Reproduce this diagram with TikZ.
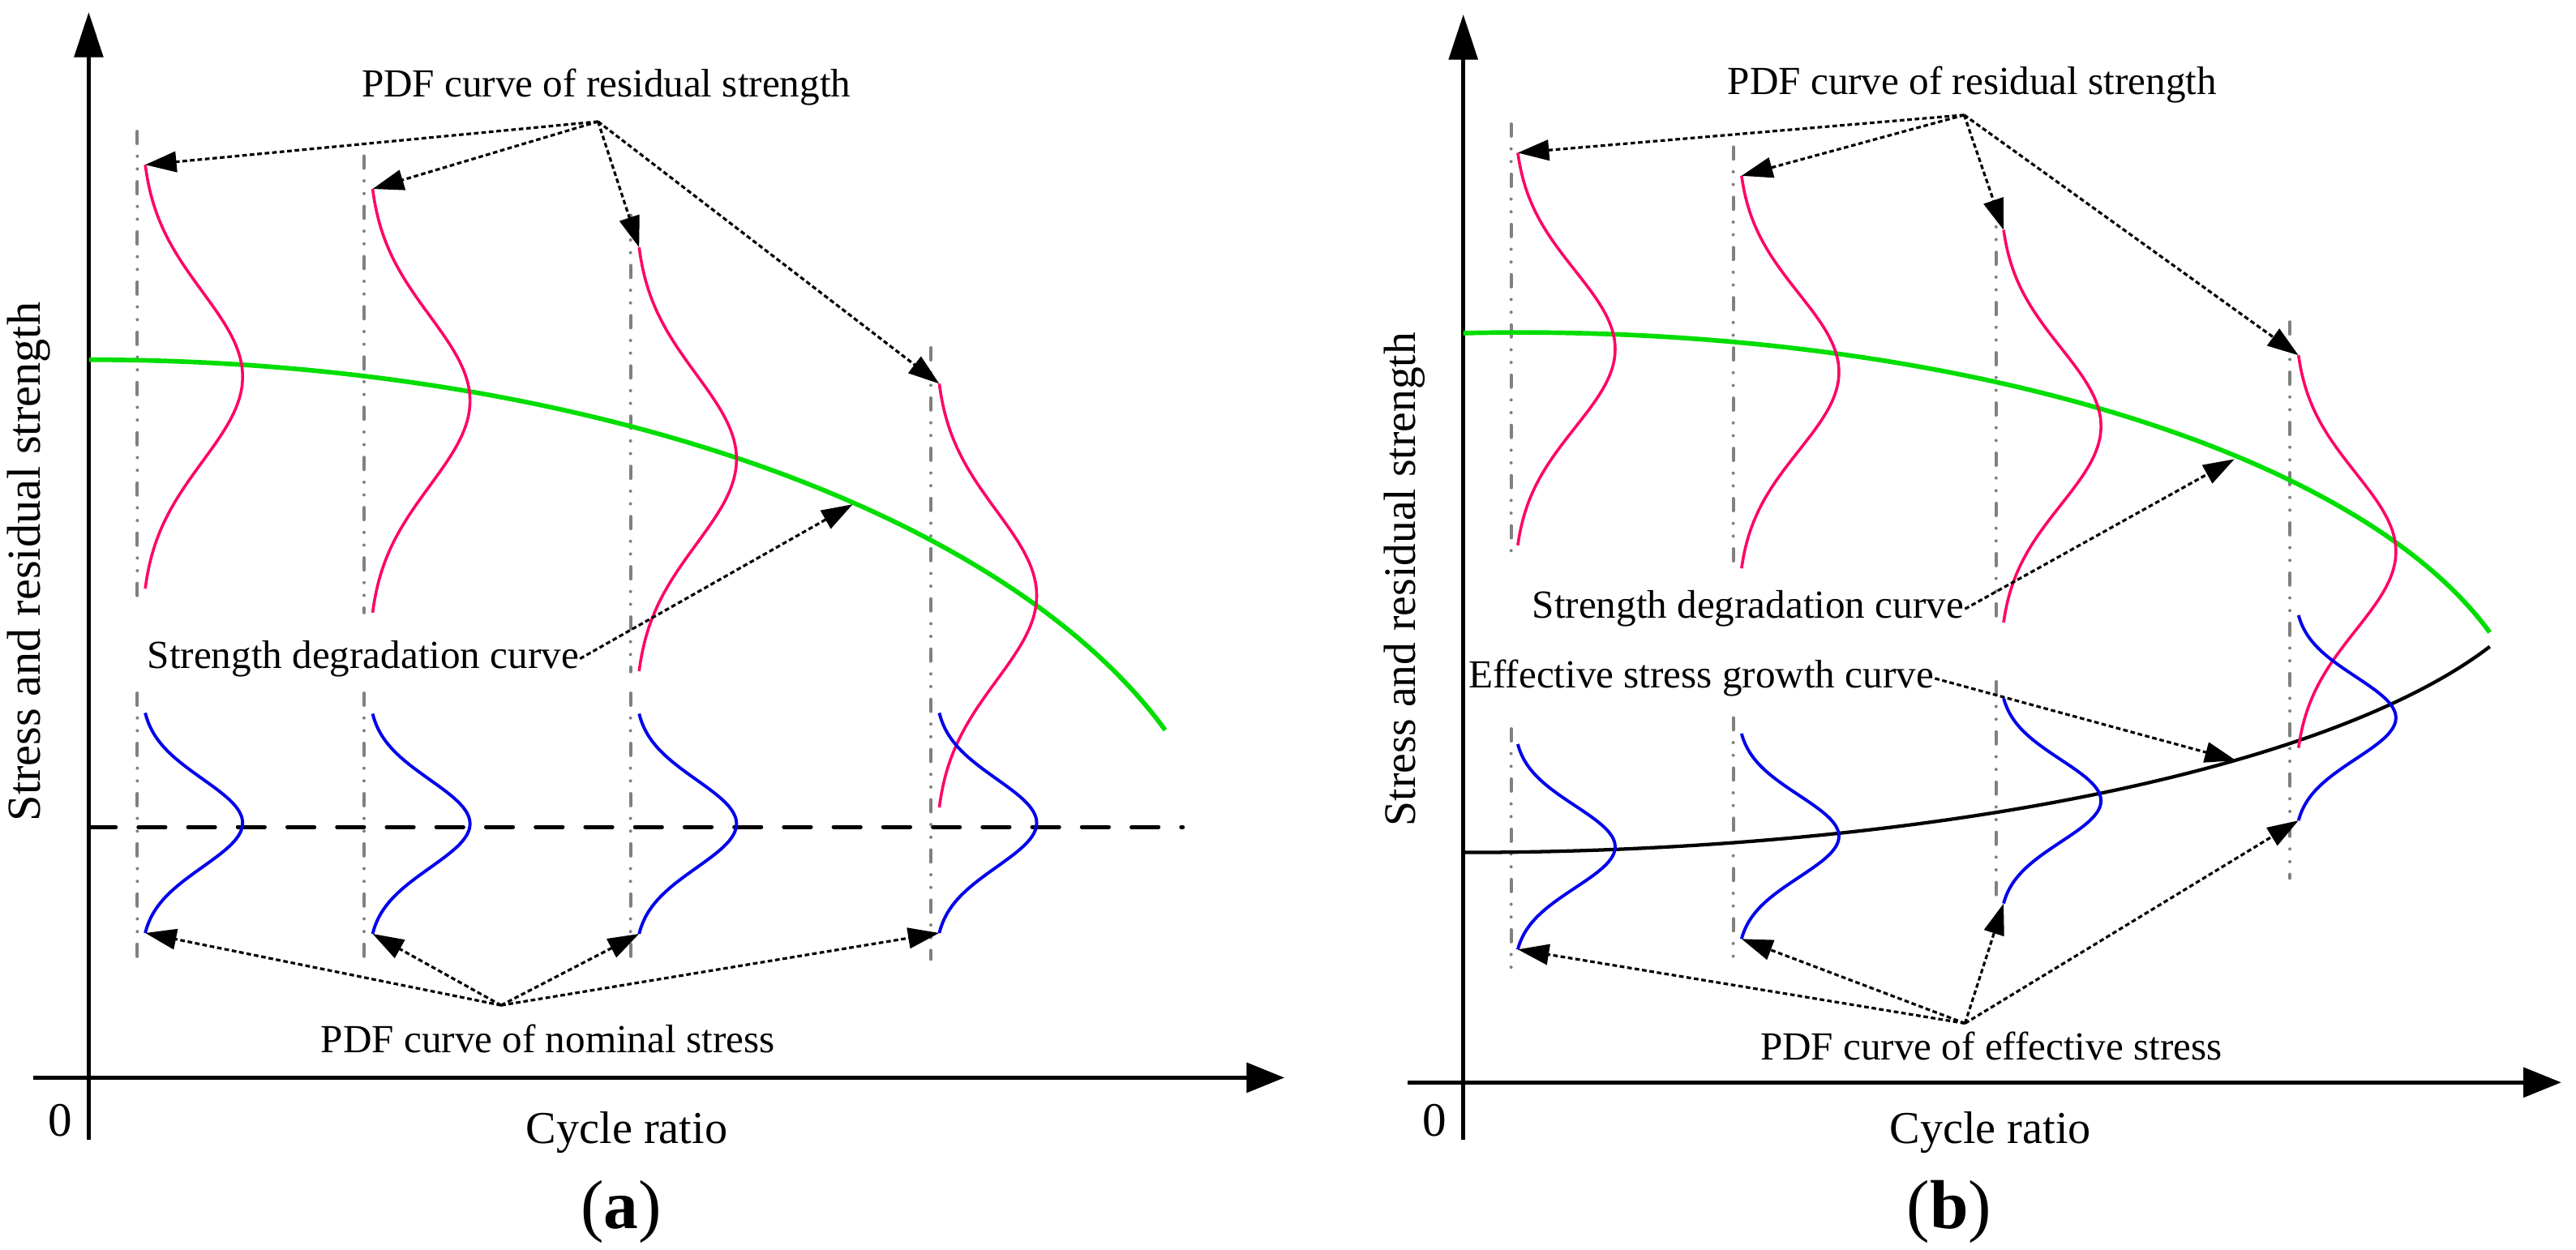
\documentclass[tikz,border=0pt]{standalone}
\usepackage{fontspec}
\setmainfont{Liberation Serif}
\usetikzlibrary{arrows.meta}
\definecolor{pdfred}{RGB}{255,0,102}
\definecolor{pdfblue}{RGB}{0,0,235}
\definecolor{degreen}{RGB}{0,221,0}
\definecolor{guidegray}{RGB}{128,128,128}

\begin{document}
\begin{tikzpicture}[scale=0.1,
  axisline/.style={line width=0.63pt},
  guide/.style={guidegray, line width=0.56pt, line cap=round, dash pattern=on 2.1pt off 2.2pt on 0pt off 2.2pt on 0pt off 2.2pt},
  redpdf/.style={pdfred, line width=0.5pt},
  bluepdf/.style={pdfblue, line width=0.55pt},
  leader/.style={line width=0.45pt, dash pattern=on 0.8pt off 0.5pt, -{Triangle[length=1.9mm,width=1.25mm]}},
  lbl/.style={font=\fontsize{6.9}{8}\selectfont},
  ylab/.style={rotate=90, font=\fontsize{8.2}{9}\selectfont}]
\tikzstyle{every node}+=[inner sep=0pt]
\useasboundingbox (0,0) rectangle (156.8,-76.06);

\draw [axisline, -{Triangle[length=2.75mm,width=1.75mm]}] (5.4,-69.4) -- (5.4,-0.74);
\draw [axisline, -{Triangle[length=2.3mm,width=1.8mm]}] (2.02,-65.61) -- (78.18,-65.61);
\draw [line width=0.66pt, line cap=round, dash pattern=on 4.7pt off 3.9pt] (5.4,-50.35) -- (72.0,-50.35);

\draw [guide] (8.36,-8.0) -- (8.36,-36.8);
\draw [guide] (8.36,-42.2) -- (8.36,-58.4);
\draw [guide] (22.16,-9.5) -- (22.16,-37.3);
\draw [guide] (22.16,-42.2) -- (22.16,-58.4);
\draw [guide] (38.38,-13.1) -- (38.38,-40.9);
\draw [guide] (38.38,-42.2) -- (38.38,-58.4);
\draw [guide] (56.66,-21.17) -- (56.66,-58.4);

\draw [degreen, line width=0.8pt] (5.43,-21.9) arc [start angle=90, end angle=19.54, x radius=69.5, y radius=33.88];

\coordinate (r1a) at (8.84,-10.03);
\coordinate (r2a) at (22.68,-11.5);
\coordinate (r3a) at (38.9,-15.06);
\coordinate (r4a) at (57.17,-23.36);
\coordinate (b1a) at (8.84,-56.8);
\coordinate (b2a) at (22.68,-56.85);
\coordinate (b3a) at (38.9,-56.85);
\coordinate (b4a) at (57.17,-56.8);
\coordinate (gtipa) at (51.9,-30.7);

\draw [redpdf, shift={(r1a)}] plot [domain=-2.5:2.5, samples=41, smooth, variable=\t] ({6.2*(exp(-(\t)*(\t)/2)-0.0439)}, {-12.9*(\t+2.5)/2.5});
\draw [redpdf, shift={(r2a)}] plot [domain=-2.5:2.5, samples=41, smooth, variable=\t] ({6.2*(exp(-(\t)*(\t)/2)-0.0439)}, {-12.9*(\t+2.5)/2.5});
\draw [redpdf, shift={(r3a)}] plot [domain=-2.5:2.5, samples=41, smooth, variable=\t] ({6.2*(exp(-(\t)*(\t)/2)-0.0439)}, {-12.9*(\t+2.5)/2.5});
\draw [redpdf, shift={(r4a)}] plot [domain=-2.5:2.5, samples=41, smooth, variable=\t] ({6.2*(exp(-(\t)*(\t)/2)-0.0439)}, {-12.9*(\t+2.5)/2.5});
\draw [bluepdf, shift={(b1a)}] plot [domain=-2.5:2.5, samples=41, smooth, variable=\t] ({6.2*(exp(-(\t)*(\t)/2)-0.0439)}, {6.7*(\t+2.5)/2.5});
\draw [bluepdf, shift={(b2a)}] plot [domain=-2.5:2.5, samples=41, smooth, variable=\t] ({6.2*(exp(-(\t)*(\t)/2)-0.0439)}, {6.7*(\t+2.5)/2.5});
\draw [bluepdf, shift={(b3a)}] plot [domain=-2.5:2.5, samples=41, smooth, variable=\t] ({6.2*(exp(-(\t)*(\t)/2)-0.0439)}, {6.7*(\t+2.5)/2.5});
\draw [bluepdf, shift={(b4a)}] plot [domain=-2.5:2.5, samples=41, smooth, variable=\t] ({6.2*(exp(-(\t)*(\t)/2)-0.0439)}, {6.7*(\t+2.5)/2.5});

\node [lbl] (tra) at (36.9,-5.3) {PDF curve of residual strength};
\node [lbl] (sdca) at (22.1,-40.1) {Strength degradation curve};
\node [lbl] (nsa) at (33.35,-63.25) {PDF curve of nominal stress};
\node [font=\fontsize{7.9}{9}\selectfont] (cra) at (38.15,-68.95) {Cycle ratio};
\node [font=\fontsize{8.3}{9}\selectfont] (zeroa) at (3.65,-68.2) {0};
\node [font=\fontsize{12}{14}\selectfont] (laba) at (37.8,-73.8) {(\textbf{a})};
\node [ylab] (ylaba) at (1.73,-34.2) {Stress and residual strength};

\coordinate (ra) at (36.4,-7.4);
\coordinate (na) at (30.5,-61.2);
\draw [leader] (ra) -- (r1a);
\draw [leader] (ra) -- (r2a);
\draw [leader] (ra) -- (r3a);
\draw [leader] (ra) -- (r4a);
\draw [leader] (sdca.east) -- (gtipa);
\draw [leader] (na) -- (b1a);
\draw [leader] (na) -- (b2a);
\draw [leader] (na) -- (b3a);
\draw [leader] (na) -- (b4a);

\draw [axisline, -{Triangle[length=2.75mm,width=1.75mm]}] (89.07,-69.4) -- (89.07,-0.88);
\draw [axisline, -{Triangle[length=2.3mm,width=1.8mm]}] (85.7,-65.9) -- (155.9,-65.9);

\draw [guide] (91.98,-7.55) -- (91.98,-34.0);
\draw [guide] (91.98,-44.37) -- (91.98,-59.3);
\draw [guide] (105.5,-8.95) -- (105.5,-34.6);
\draw [guide] (105.5,-43.7) -- (105.5,-58.6);
\draw [guide] (121.5,-12.3) -- (121.5,-37.9);
\draw [guide] (121.5,-41.5) -- (121.5,-54.96);
\draw [guide] (139.38,-19.6) -- (139.38,-53.47);

\draw [degreen, line width=0.8pt] (89.07,-20.28) arc [start angle=93.19, end angle=16.86, x radius=61.7, y radius=25.72];
\draw [line width=0.6pt] (89.07,-51.9) arc [start angle=270, end angle=339.3, x radius=66.8, y radius=19.39];

\coordinate (r1b) at (92.38,-9.3);
\coordinate (r2b) at (106.0,-10.7);
\coordinate (r3b) at (121.95,-14.0);
\coordinate (r4b) at (139.9,-21.63);
\coordinate (b1b) at (92.38,-57.8);
\coordinate (b2b) at (106.0,-57.16);
\coordinate (b3b) at (121.95,-55.0);
\coordinate (b4b) at (139.9,-49.95);
\coordinate (gtipb) at (136.0,-27.95);
\coordinate (ktipb) at (136.1,-46.3);

\draw [redpdf, shift={(r1b)}] plot [domain=-2.5:2.5, samples=41, smooth, variable=\t] ({6.2*(exp(-(\t)*(\t)/2)-0.0439)}, {-11.95*(\t+2.5)/2.5});
\draw [redpdf, shift={(r2b)}] plot [domain=-2.5:2.5, samples=41, smooth, variable=\t] ({6.2*(exp(-(\t)*(\t)/2)-0.0439)}, {-11.95*(\t+2.5)/2.5});
\draw [redpdf, shift={(r3b)}] plot [domain=-2.5:2.5, samples=41, smooth, variable=\t] ({6.2*(exp(-(\t)*(\t)/2)-0.0439)}, {-11.95*(\t+2.5)/2.5});
\draw [redpdf, shift={(r4b)}] plot [domain=-2.5:2.5, samples=41, smooth, variable=\t] ({6.2*(exp(-(\t)*(\t)/2)-0.0439)}, {-11.95*(\t+2.5)/2.5});
\draw [bluepdf, shift={(b1b)}] plot [domain=-2.5:2.5, samples=41, smooth, variable=\t] ({6.2*(exp(-(\t)*(\t)/2)-0.0439)}, {6.25*(\t+2.5)/2.5});
\draw [bluepdf, shift={(b2b)}] plot [domain=-2.5:2.5, samples=41, smooth, variable=\t] ({6.2*(exp(-(\t)*(\t)/2)-0.0439)}, {6.25*(\t+2.5)/2.5});
\draw [bluepdf, shift={(b3b)}] plot [domain=-2.5:2.5, samples=41, smooth, variable=\t] ({6.2*(exp(-(\t)*(\t)/2)-0.0439)}, {6.25*(\t+2.5)/2.5});
\draw [bluepdf, shift={(b4b)}] plot [domain=-2.5:2.5, samples=41, smooth, variable=\t] ({6.2*(exp(-(\t)*(\t)/2)-0.0439)}, {6.25*(\t+2.5)/2.5});

\node [lbl] (trb) at (120.05,-5.17) {PDF curve of residual strength};
\node [lbl] (sdcb) at (106.4,-37.07) {Strength degradation curve};
\node [lbl] (esgb) at (103.55,-41.3) {Effective stress growth curve};
\node [lbl] (esb) at (121.2,-63.7) {PDF curve of effective stress};
\node [font=\fontsize{7.9}{9}\selectfont] (crb) at (121.15,-68.95) {Cycle ratio};
\node [font=\fontsize{8.3}{9}\selectfont] (zerob) at (87.3,-68.2) {0};
\node [font=\fontsize{12}{14}\selectfont] (labb) at (118.65,-73.8) {(\textbf{b})};
\node [ylab, font=\fontsize{7.8}{9}\selectfont] (ylabb) at (85.5,-35.27) {Stress and residual strength};

\coordinate (rb) at (119.55,-7.0);
\coordinate (eb) at (119.6,-62.3);
\draw [leader] (rb) -- (r1b);
\draw [leader] (rb) -- (r2b);
\draw [leader] (rb) -- (r3b);
\draw [leader] (rb) -- (r4b);
\draw [leader] (sdcb.east) -- (gtipb);
\draw [leader] (esgb.east) -- (ktipb);
\draw [leader] (eb) -- (b1b);
\draw [leader] (eb) -- (b2b);
\draw [leader] (eb) -- (b3b);
\draw [leader] (eb) -- (b4b);
\end{tikzpicture}
\end{document}
